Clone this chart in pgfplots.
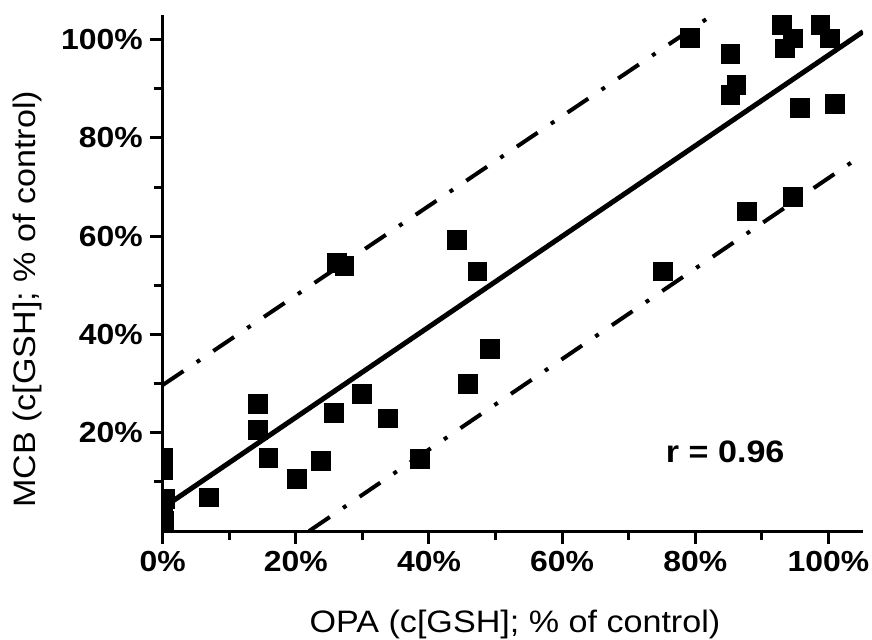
\documentclass[border=0pt]{standalone}
\usepackage{graphicx}
\usepackage{fontspec}
\setmainfont{Liberation Sans}
\usepackage{pgfplots}
\pgfplotsset{compat=1.18}
\newcommand{\sx}[1]{\scalebox{1.1}[1]{#1}}
\begin{document}
\begin{tikzpicture}
\begin{axis}[
  name=ax,
  scale only axis,
  width=350.15pt, height=258pt,
  xmin=0, xmax=105.2, ymin=0, ymax=105,
  axis lines=left,
  axis line style={-, line width=1.5pt, black},
  tick align=outside,
  major tick length=6.5pt,
  minor tick length=4.5pt,
  every tick/.style={line width=1.5pt, black},
  xtick={0,20,40,60,80,100},
  xticklabels={\sx{0\%},\sx{20\%},\sx{40\%},\sx{60\%},\sx{80\%},\sx{100\%}},
  ytick={20,40,60,80,100},
  yticklabels={\sx{20\%},\sx{40\%},\sx{60\%},\sx{80\%},\sx{100\%}},
  minor xtick={10,30,50,70,90},
  minor ytick={10,30,50,70,90},
  ticklabel style={font=\bfseries\fontsize{14.5}{14.5}\selectfont},
  xlabel={\sx{OPA (c[GSH]; \% of control)}},
  ylabel={\sx{MCB (c[GSH]; \% of control)}},
  label style={font=\fontsize{15.5}{15.5}\selectfont},
  xlabel style={at={(axis description cs:0.503,0)}, anchor=center, yshift=-46.5pt},
  ylabel style={at={(axis description cs:0,0.449)}, anchor=center, yshift=67.8pt},
  clip marker paths=true,
]
% regression line and prediction band
\addplot[black, line width=2.5pt] coordinates {(0,4.7) (105.2,101.6)};
\addplot[black, line width=2pt, dash pattern=on 12.5pt off 8pt on 2pt off 8pt] coordinates {(0,29.7) (82.8,105.2)};
\addplot[black, line width=2pt, dash pattern=on 12.5pt off 8pt on 2pt off 8pt] coordinates {(22.0,0) (105.2,76.6)};
% data
\addplot[only marks, mark=square*, mark size=4.7pt, mark options={fill=black, draw=black, line width=0pt}] table {
x y
0 14.8
0 12.3
0.3 6.5
0 4.3
0.2 2.0
0 0.3
6.9 6.8
14.3 25.9
14.3 20.5
15.9 14.9
20.2 10.6
23.8 14.3
25.7 24.0
29.9 27.8
33.9 22.9
38.7 14.7
26.2 54.5
27.3 54.0
44.2 59.2
47.3 52.8
45.9 29.9
49.2 37.1
75.1 52.8
79.2 100.3
85.3 97.0
86.2 90.7
85.3 88.7
93.0 103.0
94.7 100.2
93.5 98.2
98.8 103.0
100.2 100.2
95.7 86.0
101.0 86.9
94.7 67.9
87.8 65.0
};
\node[font=\bfseries\fontsize{15.5}{15.5}\selectfont] at (axis cs:84.5,16.1) {\sx{r = 0.96}};
\end{axis}
\pgfresetboundingbox
\path ([shift={(-81.35pt,-54pt)}]ax.south west) rectangle ([shift={(354.65pt,265.5pt)}]ax.south west);
\end{tikzpicture}
\end{document}
